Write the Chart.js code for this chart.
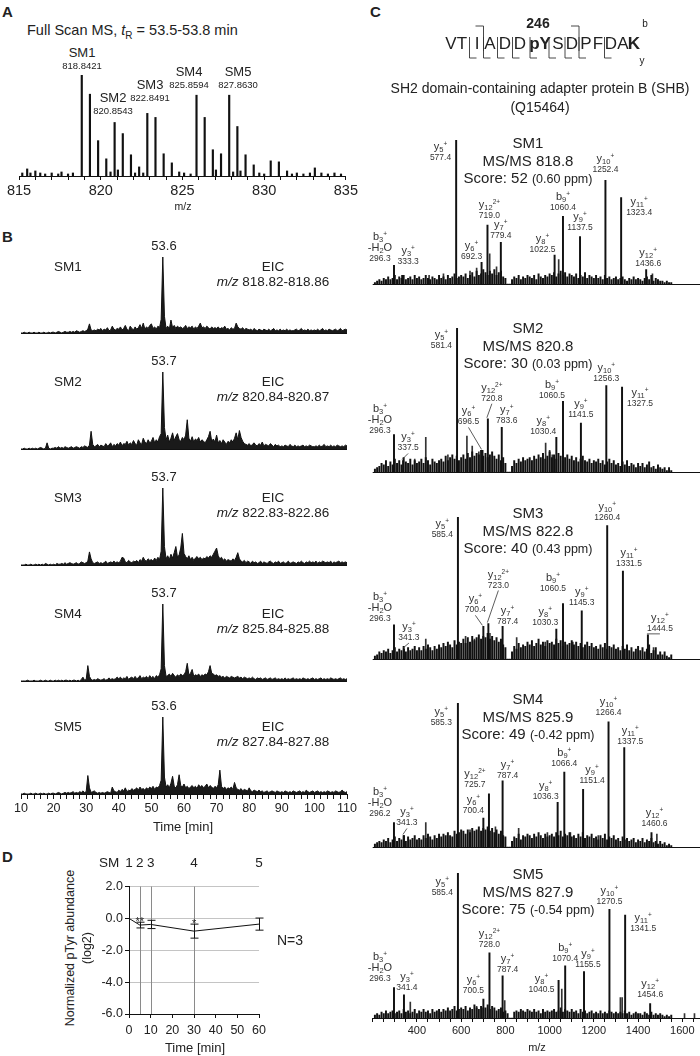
<!DOCTYPE html>
<html>
<head>
<meta charset="utf-8">
<title>SHB pY246</title>
<script src="https://cdn.jsdelivr.net/npm/chart.js@4.4.1/dist/chart.umd.min.js"></script>
<style>
  html, body { margin: 0; background: #fff; }
  #fig { position: relative; width: 700px; height: 1056px; overflow: hidden;
         font-family: "Liberation Sans", Arial, sans-serif; color: #222; }
  .t { position: absolute; white-space: nowrap; line-height: 1; }
  .box { position: absolute; }
  .ion { position: absolute; white-space: nowrap; text-align: center; color: #333; }
  .ion .n { font-size: 11px; line-height: 11px; }
  .ion .m { font-size: 8.5px; line-height: 10px; }
  sub, sup { line-height: 0; }
  .ion sub { font-size: 7.5px; vertical-align: -2px; }
  .ion sup { font-size: 6.5px; vertical-align: 4px; }
</style>
</head>
<body>
<div id="fig"></div>
<script>
// ---------- A: full scan MS ----------
const fullScanMz = [815.2, 815.5, 815.7, 816.0, 816.3, 816.6, 817.0, 817.4, 817.6, 818.0, 818.3, 818.84, 819.34, 819.84, 820.34, 820.6, 820.85, 821.05, 821.35, 821.85, 822.1, 822.35, 822.6, 822.85, 823.35, 823.85, 824.35, 824.8, 825.1, 825.5, 825.86, 826.36, 826.86, 827.05, 827.36, 827.86, 828.1, 828.36, 828.55, 828.86, 829.36, 829.7, 830.0, 830.4, 830.9, 831.4, 831.7, 832.0, 832.4, 832.8, 833.1, 833.5, 833.9, 834.3, 834.7];
const fullScanInt = [3, 7, 3, 5, 3, 2, 3, 2, 4, 2, 3, 100, 81, 35, 17, 4, 53, 6, 42, 21, 3, 9, 3, 62, 58, 22, 13, 4, 3, 2, 80, 58, 26, 6, 22, 80, 4, 49, 5, 21, 11, 3, 2, 15, 14, 5, 2, 3, 2, 3, 8, 3, 2, 3, 2];
const fullScanTicks = [815, 820, 825, 830, 835];
const smNames = ['SM1', 'SM2', 'SM3', 'SM4', 'SM5'];
const smMonoMz = ['818.8421', '820.8543', '822.8491', '825.8594', '827.8630'];

// ---------- B: extracted ion chromatograms (every 0.5 min from 10 to 110) ----------
const eicStart = 10, eicStep = 0.5;
const eicTicks = [10, 20, 30, 40, 50, 60, 70, 80, 90, 100, 110];
const eicApex = ['53.6', '53.7', '53.7', '53.7', '53.6'];
const eicRange = ['818.82-818.86', '820.84-820.87', '822.83-822.86', '825.84-825.88', '827.84-827.88'];
const sm1Eic = [
  0,0,1,0,0,1,0,0,1,0, 0,1,0,0,1,0,0,1,0,1,
  1,0,1,2,1,0,1,2,1,1, 2,1,2,1,3,2,1,2,3,2,
  3,5,12,4,3,4,3,5,4,6, 3,5,4,7,3,4,9,5,4,6,
  5,8,4,6,10,5,3,9,6,4, 8,5,7,11,6,13,5,8,6,10,
  12,6,8,5,9,7,18,100,22,6, 9,5,17,7,10,6,9,7,8,6,
  7,10,6,8,7,9,5,8,6,9, 13,7,8,6,9,7,5,8,6,7,
  6,8,5,7,6,9,5,6,4,7, 5,6,13,8,6,5,7,4,6,5,
  4,5,3,6,4,3,5,4,3,5, 4,3,5,3,4,6,3,4,3,5,
  3,4,3,5,3,4,3,3,4,5, 3,4,6,3,4,3,5,3,4,3,
  4,3,5,3,4,6,3,4,3,5, 4,3,4,5,3,4,6,3,4,5, 4];
const sm2Eic = [
  0,0,1,0,0,1,0,1,0,1, 0,1,2,1,0,1,8,1,0,1,
  1,2,1,3,1,2,1,3,2,1, 2,3,1,2,3,2,1,3,2,4,
  3,2,5,23,6,3,4,6,3,5, 4,3,7,4,5,8,3,6,4,7,
  5,9,4,7,6,10,5,8,6,11, 7,5,12,8,6,14,9,7,12,8,
  10,15,8,12,9,16,20,100,28,12, 18,9,14,21,11,16,20,12,10,15,
  12,18,38,14,10,16,9,13,11,15, 9,12,10,8,12,16,23,10,13,9,
  18,8,11,7,12,9,6,10,8,12, 9,14,21,12,24,15,10,7,6,5,
  7,4,6,8,5,4,7,5,9,4, 6,5,4,7,5,3,6,4,5,3,
  4,3,5,4,3,6,4,3,5,3, 4,3,4,5,3,4,3,5,4,3,
  3,4,3,5,3,4,6,3,4,3, 5,3,4,3,5,4,3,4,3,5, 4];
const sm3Eic = [
  0,0,0,1,0,0,1,0,0,1, 0,1,0,1,0,2,1,0,1,0,
  1,0,2,1,1,2,1,3,1,2, 3,2,1,2,3,1,2,4,3,2,
  3,5,17,8,3,2,3,4,2,3, 2,3,5,2,3,4,3,5,3,4,
  3,5,10,9,4,3,6,4,3,5, 4,6,3,7,5,10,6,5,8,6,
  7,5,9,6,10,7,18,100,24,8, 12,7,14,9,16,24,10,13,22,41,
  15,11,8,12,7,10,6,9,11,8, 10,7,9,8,11,9,12,10,14,18,
  22,12,8,10,6,8,5,7,6,5, 8,6,10,16,8,5,4,6,3,5,
  4,2,5,3,4,2,3,5,2,4, 3,2,4,5,3,2,4,3,5,2,
  3,4,2,3,5,2,3,4,3,2, 4,3,5,3,2,4,3,5,3,4,
  3,5,2,4,3,5,4,3,4,3, 5,2,4,3,4,5,3,4,3,4, 3];
const sm4Eic = [
  0,0,0,0,1,0,0,0,1,0, 0,0,1,0,0,1,0,0,1,0,
  0,1,0,1,0,1,0,1,1,0, 1,0,1,1,0,1,0,2,5,1,
  2,20,6,2,1,2,1,3,2,1, 2,3,1,2,4,2,3,2,3,5,
  3,5,2,4,3,6,2,4,5,3, 6,3,4,7,3,5,4,6,3,7,
  4,6,3,7,5,8,16,100,20,6, 7,9,6,10,7,5,8,6,9,7,
  8,12,23,8,10,15,6,8,7,9, 6,8,7,9,8,12,20,10,9,7,
  8,6,7,5,6,4,6,5,4,6, 5,4,5,6,4,5,3,5,4,3,
  4,3,5,3,2,4,3,4,2,3, 4,2,3,4,2,3,4,2,3,2,
  3,2,4,2,3,2,3,4,2,3, 2,3,2,4,3,2,3,2,3,4,
  2,3,2,3,4,2,3,2,3,2, 4,3,2,3,2,3,4,2,3,2, 3];
const sm5Eic = [
  0,0,1,0,0,0,1,0,0,1, 0,0,1,0,1,0,0,1,0,1,
  1,0,1,2,1,0,1,2,1,2, 1,2,3,1,2,1,3,2,4,2,
  3,24,8,2,3,4,2,1,2,1, 2,1,2,3,2,1,9,4,3,2,
  5,3,6,4,8,3,5,4,7,5, 6,8,5,9,6,7,5,8,6,9,
  7,10,6,9,8,11,18,100,22,9, 12,8,14,23,10,8,12,25,11,9,
  13,8,10,7,9,11,8,10,7,12, 9,11,8,10,13,8,11,9,7,10,
  8,12,31,10,7,9,6,8,7,9, 6,15,8,6,5,7,4,6,5,4,
  8,4,3,5,4,3,5,3,4,2, 3,4,2,3,4,3,2,4,3,2,
  3,2,4,3,2,3,2,4,3,2, 3,4,2,3,2,5,3,2,3,4,
  2,3,4,2,3,2,3,2,4,3, 2,3,2,4,3,2,3,5,3,2, 3];

// ---------- C: MS/MS spectra (relative intensity, %) ----------
const msTickLabels = [400, 600, 800, 1000, 1200, 1400, 1600];
const msPrecursor = ['818.8', '820.8', '822.8', '825.9', '827.9'];
const msScore = ['52', '30', '40', '49', '75'];
const msPpm = ['0.60', '0.03', '0.43', '-0.42', '-0.54'];
const ionNames = ['b3^+|-H2O', 'y3^+', 'y5^+', 'y6^+', 'y12^2+', 'y7^+', 'y8^+', 'b9^+', 'y9^+', 'y10^+', 'y11^+', 'y12^+'];

const sm1Mz = [296.3, 333.3, 577.4, 692.3, 719.0, 779.4, 1022.5, 1060.4, 1137.5, 1252.4, 1323.4, 1436.6];
const sm1Int = [13, 6, 100, 15, 41, 29, 20, 47, 33, 72, 60, 10];
const sm1OtherMz = [455, 520, 640, 670, 729, 760, 1041, 1465];
const sm1OtherInt = [6, 7, 9, 11, 21, 12, 17, 7];

const sm2Mz = [296.3, 337.5, 581.4, 696.5, 720.8, 783.6, 1030.4, 1060.5, 1141.5, 1256.3, 1327.5];
const sm2Int = [26, 8, 100, 15, 37, 31, 24, 49, 34, 60, 59];
const sm2OtherMz = [390, 440, 540, 626, 650, 680, 982, 1000, 1012];
const sm2OtherInt = [9, 24, 12, 25, 18, 14, 20, 15, 12];

const sm3Mz = [296.3, 341.3, 585.4, 700.4, 723.0, 787.4, 1030.3, 1060.5, 1145.3, 1260.4, 1331.5, 1444.5];
const sm3Int = [24, 7, 100, 23, 25, 23, 21, 39, 34, 94, 62, 17];
const sm3OtherMz = [440, 620, 660, 730, 851, 980, 1105, 1470];
const sm3OtherInt = [14, 16, 14, 18, 15, 12, 12, 8];

const sm4Mz = [296.2, 341.3, 585.3, 700.4, 725.7, 787.4, 1036.3, 1066.4, 1151.4, 1266.4, 1337.5, 1460.6];
const sm4Int = [17, 8, 100, 20, 37, 46, 31, 52, 40, 87, 69, 10];
const sm4OtherMz = [440, 640, 755, 860, 990, 1094, 1220, 1485];
const sm4OtherInt = [17, 12, 14, 13, 10, 10, 8, 9];

const sm5Mz = [296.3, 341.4, 585.4, 700.5, 728.0, 787.4, 1040.5, 1070.4, 1155.5, 1270.5, 1341.5, 1454.6];
const sm5Int = [21, 16, 100, 13, 45, 29, 26, 36, 32, 75, 71, 10];
const sm5OtherMz = [370, 670, 797, 1055, 1320, 1328, 1610, 1655];
const sm5OtherInt = [11, 8, 12, 20, 14, 14, 3, 3];

// background noise, every 10 m/z from 210 to 1550
const noiseStart = 210, noiseStep = 10;
const sm1Noise = [1,2,3,2,4,3,5,3,4,6, 3,5,4,6,3,4,5,3,6,4, 5,3,4,6,4,3,5,4,3,6, 4,5,3,6,4,5,7,4,5,6,
  5,7,4,6,8,5,9,6,7,10, 8,6,9,7,10,6,8,9,5,4, 0,0,3,5,4,6,3,5,4,6, 5,4,6,3,7,5,4,6,5,7,
  6,8,5,7,9,6,8,5,7,6, 5,7,4,6,5,8,4,6,5,4, 6,4,5,3,6,4,5,3,4,5, 3,4,5,3,2,4,3,5,3,4,
  3,2,4,5,3,6,2,4,3,2, 2,1,2,1,1];
const sm2Noise = [2,3,4,6,5,8,4,7,5,9, 6,8,5,10,7,6,9,5,8,6, 7,9,6,10,8,5,9,7,6,8, 9,7,11,8,10,12,9,11,8,10,
  12,9,13,10,14,11,13,12,15,11, 13,10,12,14,11,9,12,8,10,6, 0,0,4,8,6,9,7,10,8,9, 10,8,11,9,12,10,13,9,11,14,
  10,12,9,13,11,8,10,12,9,11, 8,10,7,9,11,8,7,9,6,8, 7,9,6,8,5,7,9,6,8,5, 6,4,7,5,8,4,6,5,3,6,
  4,6,3,5,7,3,4,2,5,3, 2,3,1,3,1];
const sm3Noise = [2,3,5,4,6,5,7,4,6,8, 5,7,6,9,5,8,6,7,9,6, 8,6,9,7,10,8,6,9,7,10, 8,11,9,12,10,8,13,10,12,11,
  14,11,15,12,16,13,15,17,14,16, 15,18,14,16,13,15,12,14,10,8, 0,0,5,9,7,11,8,10,9,12, 10,13,9,11,14,10,12,9,13,11,
  12,10,14,11,13,9,12,10,11,13, 10,12,9,11,8,10,12,9,11,8, 9,7,10,8,11,7,9,8,10,7, 8,6,9,7,10,6,8,5,7,9,
  6,8,5,7,10,4,6,8,3,5, 3,5,2,1,3];
const sm4Noise = [2,3,4,3,5,4,6,3,5,7, 4,6,5,8,4,7,5,6,8,5, 6,5,8,6,9,7,5,8,6,9, 7,9,8,10,8,7,11,9,10,12,
  11,9,12,10,13,11,12,14,11,13, 12,14,11,13,10,12,9,11,8,7, 0,0,4,7,6,9,5,8,7,9, 8,6,9,7,10,8,6,9,7,8,
  9,7,10,8,11,7,9,8,10,7, 8,6,9,7,10,6,8,7,9,6, 7,5,8,6,9,5,7,6,8,5, 6,4,7,5,6,4,5,6,3,5,
  4,6,3,5,4,6,3,4,2,4, 2,3,1,2,1];
const sm5Noise = [2,3,2,4,3,5,3,4,5,3, 4,5,3,6,4,5,3,4,6,3, 5,4,6,4,5,3,6,4,5,6, 4,6,5,7,5,6,8,5,6,7,
  6,8,5,7,6,9,7,6,8,7, 7,9,6,8,7,5,6,7,4,5, 3,0,0,4,5,4,6,5,4,6, 5,4,6,4,5,3,6,4,5,4,
  5,6,4,5,7,4,6,5,4,6, 4,5,3,6,4,5,3,4,5,3, 4,3,5,3,4,3,5,4,3,4, 3,4,3,5,3,4,2,3,4,3,
  3,2,4,3,2,4,2,3,2,3, 2,1,2,1,2];

// label placement next to each annotated peak: [mode, dx, dy, pointer]
const sm1Place = [['a',-14,-2],['a',6,-9],['l',-5,1],['a',-10,-1],['a',2,-5],['a',0,-2],['a',-12,-1],['a',0,-4],['a',0,-4],['a',0,-6],['r',5,-2],['a',2,-2]];
const sm2Place = [['a',-14,0],['a',5,-8,1],['l',-5,1],['a',-14,-24,1],['a',4,-16,1],['a',5,-2],['a',-13,-1],['a',-11,-1],['a',0,-4],['a',0,-3],['r',5,0]];
const sm3Place = [['a',-14,-2],['a',5,-7,1],['l',-5,1],['a',-8,-12,1],['a',10,-34,1],['a',5,0],['a',-11,-2],['a',-10,-11],['a',0,-4],['a',0,-4],['a',6,-3],['a',12,-2,1]];
const sm4Place = [['a',-14,-5],['a',3,-8,1],['l',-6,3],['a',-10,-3],['a',-14,-5],['a',5,-1],['a',-12,-1],['a',0,-4],['a',9,-4],['a',0,-5],['a',6,-2],['a',3,-5]];
const sm5Place = [['a',-14,-5],['a',3,-3],['l',-5,3],['a',-10,-4],['a',0,-4],['a',5,-2],['a',-17,14],['a',0,-3],['a',4,-3],['a',0,-3],['r',5,-3],['a',0,-5]];

// peptide VTIADDpYSDPFDAK, cut sites after residue index
const seqRes = ['V', 'T', 'I', 'A', 'D', 'D', 'pY', 'S', 'D', 'P', 'F', 'D', 'A', 'K'];
const seqBold = [6, 13];
const bCuts = [2, 8];
const yCuts = [1, 2, 3, 4, 5, 6, 7, 8, 10];

// ---------- D: time course ----------
const pTyrTime = [0, 5, 10, 30, 60];
const pTyrMean = [0, -0.42, -0.38, -0.8, -0.36];
const pTyrErr = [0, 0.18, 0.26, 0.44, 0.38];
const pTyrSig = ['', '**', '', '*', ''];
const pTyrSm = ['1', '2', '3', '4', '5'];
const guideTimes = [5, 10, 30];

// ================= drawing =================
const INK = '#111';
const fig = document.getElementById('fig');
Chart.defaults.font.family = '"Liberation Sans", Arial, sans-serif';
Chart.defaults.color = '#222';
Chart.defaults.animation = false;
Chart.defaults.plugins.legend.display = false;
Chart.defaults.plugins.tooltip.enabled = false;

function text(html, x, y, size, align, extra) {
  const d = document.createElement('div');
  d.className = 't';
  d.innerHTML = html;
  d.style.left = x + 'px';
  d.style.top = y + 'px';
  d.style.fontSize = size + 'px';
  const tx = align === 'l' ? '0' : align === 'r' ? '-100%' : '-50%';
  d.style.transform = `translate(${tx},-50%)`;
  if (extra) Object.assign(d.style, extra);
  fig.appendChild(d);
  return d;
}

function canvasAt(left, top, w, h) {
  const wrap = document.createElement('div');
  wrap.className = 'box';
  wrap.style.cssText = `left:${left}px;top:${top}px;width:${w}px;height:${h}px`;
  const c = document.createElement('canvas');
  c.width = w; c.height = h;
  c.style.width = w + 'px'; c.style.height = h + 'px';
  wrap.appendChild(c);
  fig.appendChild(wrap);
  return c;
}

// baseline, label pointers, error bars, guide lines
const guides = {
  id: 'guides',
  afterDatasetsDraw(chart, args, opts) {
    const { ctx, chartArea: a, scales: { x, y } } = chart;
    ctx.save();
    ctx.strokeStyle = INK;
    ctx.lineWidth = 1;
    if (opts.baseline) {
      const yy = Math.round(y.getPixelForValue(0)) + 0.5;
      ctx.beginPath(); ctx.moveTo(a.left, yy); ctx.lineTo(a.right, yy); ctx.stroke();
    }
    (opts.pointers || []).forEach(p => {
      const px = x.getPixelForValue(p.mz), py = y.getPixelForValue(p.int);
      ctx.lineWidth = 0.8;
      ctx.strokeStyle = '#333';
      ctx.beginPath(); ctx.moveTo(px + p.dx, py + p.dy + 1); ctx.lineTo(px - 1, py - 1); ctx.stroke();
    });
    if (opts.vlines) {
      ctx.strokeStyle = '#8a8a8a';
      opts.vlines.forEach(t => {
        const xx = Math.round(x.getPixelForValue(t)) + 0.5;
        ctx.beginPath(); ctx.moveTo(xx, a.top); ctx.lineTo(xx, a.bottom); ctx.stroke();
      });
    }
    if (opts.errors) {
      ctx.strokeStyle = INK;
      opts.errors.t.forEach((t, i) => {
        const e = opts.errors.e[i];
        if (!e) return;
        const xx = Math.round(x.getPixelForValue(t)) + 0.5;
        const y1 = y.getPixelForValue(opts.errors.m[i] + e), y2 = y.getPixelForValue(opts.errors.m[i] - e);
        ctx.beginPath();
        ctx.moveTo(xx, y1); ctx.lineTo(xx, y2);
        ctx.moveTo(xx - 4, y1); ctx.lineTo(xx + 4, y1);
        ctx.moveTo(xx - 4, y2); ctx.lineTo(xx + 4, y2);
        ctx.stroke();
      });
    }
    ctx.restore();
  }
};

function axisX(min, max, step, labels, size, fitH, tickLen) {
  return {
    type: 'linear', min, max, offset: false,
    grid: { offset: false, drawOnChartArea: false, tickLength: tickLen, tickColor: INK, tickWidth: 1 },
    border: { color: INK, width: 1 },
    ticks: {
      stepSize: step, includeBounds: false, autoSkip: false, maxRotation: 0, minRotation: 0,
      padding: 2, font: { size }, color: '#222',
      callback: v => labels.includes(v) ? String(v) : ''
    },
    afterFit: s => { s.height = fitH; }
  };
}
const hiddenX = (min, max) => ({ type: 'linear', min, max, offset: false, display: false, grid: { offset: false } });

// ---------- panel letters ----------
text('A', 2, 11, 15, 'l', { fontWeight: 'bold' });
text('B', 2, 236, 15, 'l', { fontWeight: 'bold' });
text('C', 370, 11, 15, 'l', { fontWeight: 'bold' });
text('D', 2, 856, 15, 'l', { fontWeight: 'bold' });

// ---------- A ----------
{
  const cv = canvasAt(0, 70, 360, 146);
  new Chart(cv, {
    type: 'bar',
    data: { datasets: [{
      data: fullScanMz.map((m, i) => ({ x: m, y: fullScanInt[i] })),
      backgroundColor: INK, barThickness: 1.5, grouped: false, borderWidth: 0
    }] },
    options: {
      responsive: false,
      layout: { padding: { left: 19, right: 12, top: 5, bottom: 0 } },
      scales: {
        x: axisX(815, 835, 1, fullScanTicks, 14.5, 40, 4),
        y: { min: 0, max: 100, display: false }
      }
    }
  });
  text('Full Scan MS, <i>t</i><sub style="font-size:10px">R</sub> = 53.5-53.8 min', 27, 30, 14.5, 'l');
  const lab = [[82, 52], [113, 97], [150, 84], [189, 71], [238, 71]];
  smNames.forEach((n, i) => {
    text(n, lab[i][0], lab[i][1], 13, 'c');
    text(smMonoMz[i], lab[i][0], lab[i][1] + 14, 9.5, 'c');
  });
  text('m/z', 183, 206, 10.5, 'c');
}

// ---------- B ----------
{
  const eics = [sm1Eic, sm2Eic, sm3Eic, sm4Eic, sm5Eic];
  const tops = [257, 372, 488, 604, 717];
  const bases = [333, 449, 565, 681, 794];
  eics.forEach((vals, k) => {
    const top = tops[k], base = bases[k], last = k === 4;
    const axisH = 30;
    const h = last ? base - top + 3 + axisH : base - top + 4;
    const cv = canvasAt(0, top - 3, 360, h);
    new Chart(cv, {
      type: 'line',
      data: { datasets: [{
        data: vals.map((v, i) => ({ x: eicStart + i * eicStep, y: v })),
        borderColor: INK, borderWidth: 1, pointRadius: 0, tension: 0,
        fill: 'origin', backgroundColor: '#1a1a1a'
      }] },
      options: {
        responsive: false,
        layout: { padding: { left: 21, right: 13, top: 3, bottom: last ? 0 : 1 } },
        scales: {
          x: last ? axisX(10, 110, 2, eicTicks, 12.5, axisH, 5) : hiddenX(10, 110),
          y: { min: 0, max: 100, display: false }
        },
        plugins: { guides: { baseline: !last } }
      },
      plugins: [guides]
    });
    text(eicApex[k], 164, top - 12, 13, 'c');
    text(smNames[k], 68, top + 10, 13.5, 'c');
    text('EIC', 273, top + 10, 13.5, 'c');
    text('<i>m/z</i> ' + eicRange[k], 273, top + 25, 13.5, 'c');
  });
  text('Time [min]', 183, 826, 13, 'c');
}

// ---------- C ----------
function ionHtml(name) {
  const [main, extra] = name.split('|');
  const m = main.match(/^([a-z])(\d+)\^(.+)$/);
  let h = `<div class="n">${m[1]}<sub>${m[2]}</sub><sup>${m[3]}</sup></div>`;
  if (extra) h += `<div class="n">${extra.replace('H2O', 'H<sub>2</sub>O')}</div>`;
  return h;
}

{
  const spectra = [
    { mz: sm1Mz, int: sm1Int, omz: sm1OtherMz, oint: sm1OtherInt, noise: sm1Noise, place: sm1Place },
    { mz: sm2Mz, int: sm2Int, omz: sm2OtherMz, oint: sm2OtherInt, noise: sm2Noise, place: sm2Place },
    { mz: sm3Mz, int: sm3Int, omz: sm3OtherMz, oint: sm3OtherInt, noise: sm3Noise, place: sm3Place },
    { mz: sm4Mz, int: sm4Int, omz: sm4OtherMz, oint: sm4OtherInt, noise: sm4Noise, place: sm4Place },
    { mz: sm5Mz, int: sm5Int, omz: sm5OtherMz, oint: sm5OtherInt, noise: sm5Noise, place: sm5Place }
  ];
  const tops = [140, 328, 517, 703, 873];
  const bases = [284, 472, 659, 847, 1018];
  const titleY = [142, 327, 512, 698, 873];
  const left = 340;
  spectra.forEach((sp, k) => {
    const top = tops[k], base = bases[k], last = k === 4;
    const axisH = 28;
    const h = last ? base - top + 3 + axisH : base - top + 4;
    const cTop = top - 3;
    const cv = canvasAt(left, cTop, 360, h);
    const pointers = [];
    sp.place.forEach((p, i) => { if (p[3]) pointers.push({ mz: sp.mz[i], int: sp.int[i], dx: p[1], dy: p[2] }); });
    const chart = new Chart(cv, {
      type: 'bar',
      data: { datasets: [
        { data: sp.noise.map((v, i) => ({ x: noiseStart + i * noiseStep, y: v })),
          backgroundColor: INK, barThickness: 1.3, grouped: false, borderWidth: 0 },
        { data: sp.omz.map((m, i) => ({ x: m, y: sp.oint[i] })),
          backgroundColor: '#333', barThickness: 1, grouped: false, borderWidth: 0 },
        { data: sp.mz.map((m, i) => ({ x: m, y: sp.int[i] })),
          backgroundColor: INK, barThickness: 1.3, grouped: false, borderWidth: 0 }
      ] },
      options: {
        responsive: false,
        layout: { padding: { left: 32.7, right: 0, top: 3, bottom: last ? 0 : 1 } },
        scales: {
          x: last ? axisX(200, 1680, 50, msTickLabels, 11, axisH, 4) : hiddenX(200, 1680),
          y: { min: 0, max: 100, display: false }
        },
        plugins: { guides: { baseline: !last, pointers } }
      },
      plugins: [guides]
    });
    const { x, y } = chart.scales;
    sp.mz.forEach((mz, i) => {
      const [mode, dx, dy] = sp.place[i];
      const d = document.createElement('div');
      d.className = 'ion';
      d.innerHTML = ionHtml(ionNames[i]) + `<div class="m">${mz.toFixed(1)}</div>`;
      d.style.left = (left + x.getPixelForValue(mz) + dx) + 'px';
      d.style.top = (cTop + y.getPixelForValue(sp.int[i]) + dy) + 'px';
      d.style.transform = mode === 'a' ? 'translate(-50%,-100%)' : mode === 'l' ? 'translateX(-100%)' : 'none';
      fig.appendChild(d);
    });
    const ty = titleY[k];
    text(smNames[k], 528, ty, 15, 'c');
    text('MS/MS ' + msPrecursor[k], 528, ty + 18, 15, 'c');
    text(`Score: ${msScore[k]} <span style="font-size:12.5px">(${msPpm[k]} ppm)</span>`, 528, ty + 36, 15, 'c');
  });
  text('m/z', 537, 1047, 11, 'c');

  // peptide sequence with fragment cut marks
  const seqX = [451, 462, 477, 490, 505, 520, 540, 558, 572, 586, 598, 611, 623, 634];
  const ns = 'http://www.w3.org/2000/svg';
  const svg = document.createElementNS(ns, 'svg');
  svg.setAttribute('width', 700); svg.setAttribute('height', 75);
  svg.style.cssText = 'position:absolute;left:0;top:0';
  seqRes.forEach((r, i) => {
    const t = document.createElementNS(ns, 'text');
    t.setAttribute('x', seqX[i]); t.setAttribute('y', 49);
    t.setAttribute('text-anchor', 'middle');
    t.setAttribute('font-size', 17);
    t.setAttribute('font-family', '"Liberation Sans", Arial, sans-serif');
    t.setAttribute('fill', '#222');
    if (seqBold.includes(i)) t.setAttribute('font-weight', 'bold');
    t.textContent = r;
    svg.appendChild(t);
  });
  const cutX = i => (seqX[i] + seqX[i + 1]) / 2;
  const path = d => {
    const p = document.createElementNS(ns, 'path');
    p.setAttribute('d', d); p.setAttribute('fill', 'none');
    p.setAttribute('stroke', '#333'); p.setAttribute('stroke-width', 0.9);
    svg.appendChild(p);
  };
  bCuts.forEach(i => { const c = cutX(i); path(`M${c - 8},26 H${c} V51`); });
  yCuts.forEach(i => { const c = cutX(i); path(`M${c},37 V58 H${c + 7}`); });
  fig.appendChild(svg);
  text('246', seqX[6] - 2, 23, 14, 'c', { fontWeight: 'bold' });
  text('b', 645, 24, 10, 'c');
  text('y', 642, 61, 10, 'c');
  text('SH2 domain-containing adapter protein B (SHB)', 540, 88, 14, 'c');
  text('(Q15464)', 540, 107, 14, 'c');
}

// ---------- D ----------
{
  const cLeft = 80, cTop = 877;
  const cv = canvasAt(cLeft, cTop, 191, 161);
  const chart = new Chart(cv, {
    type: 'line',
    data: { datasets: [{
      data: pTyrTime.map((t, i) => ({ x: t, y: pTyrMean[i] })),
      borderColor: INK, borderWidth: 1, pointRadius: 0, tension: 0, fill: false
    }] },
    options: {
      responsive: false,
      layout: { padding: { left: 0, right: 10, top: 5, bottom: 0 } },
      scales: {
        x: {
          type: 'linear', min: 0, max: 60,
          grid: { drawOnChartArea: false, tickLength: 4, tickColor: INK },
          border: { color: INK },
          ticks: { stepSize: 10, padding: 5, font: { size: 12.5 }, color: '#222', maxRotation: 0 },
          afterFit: s => { s.height = 24; }
        },
        y: {
          min: -6, max: 2,
          grid: { color: '#c4c4c4', tickLength: 4, tickColor: INK },
          border: { color: INK },
          ticks: { stepSize: 2, padding: 2, font: { size: 12.5 }, color: '#222', callback: v => v.toFixed(1) },
          afterFit: s => { s.width = 49; }
        }
      },
      plugins: { guides: { vlines: guideTimes, errors: { t: pTyrTime, m: pTyrMean, e: pTyrErr } } }
    },
    plugins: [guides]
  });
  const { x, y } = chart.scales;
  pTyrTime.forEach((t, i) => {
    const px = cLeft + x.getPixelForValue(t);
    text(pTyrSm[i], px, 863, 13.5, 'c');
    if (pTyrSig[i]) text(pTyrSig[i], px, cTop + y.getPixelForValue(pTyrMean[i] + pTyrErr[i]) - 1, 11, 'c');
  });
  text('SM', 109, 863, 13.5, 'c');
  text('Normalized pTyr abundance', 70, 948, 12.5, 'c', { transform: 'translate(-50%,-50%) rotate(-90deg)' });
  text('(log2)', 87, 948, 12.5, 'c', { transform: 'translate(-50%,-50%) rotate(-90deg)' });
  text('Time [min]', 195, 1047, 13, 'c');
  text('N=3', 277, 940, 14, 'l');
}
</script>
</body>
</html>
